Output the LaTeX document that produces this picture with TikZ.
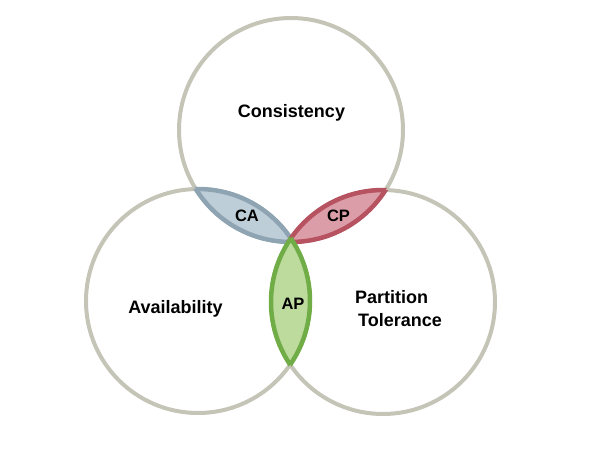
\documentclass[tikz,border=0pt]{standalone}
\usepackage{fontspec}
\setmainfont{Liberation Sans}
\usetikzlibrary{positioning}

\definecolor{setgray}{RGB}{196,196,183}
\definecolor{caline}{RGB}{143,164,178}
\definecolor{cafill}{RGB}{190,206,216}
\definecolor{cpline}{RGB}{183,82,96}
\definecolor{cpfill}{RGB}{219,158,168}
\definecolor{apline}{RGB}{112,173,71}
\definecolor{apfill}{RGB}{188,219,157}
\def\setr{112pt}

\begin{document}
\begin{tikzpicture}[x=1pt,y=-1pt,
        set/.style={circle, draw=setgray, line width=4pt, minimum size=224pt, inner sep=0pt},
        lbl/.style={font=\bfseries\fontsize{18}{22}\selectfont, inner sep=0pt, align=center},
        pair/.style={font=\bfseries\fontsize{16.5}{19}\selectfont, inner sep=0pt}]
        \useasboundingbox (0,0) rectangle (590,448);
        \node[set] (C) at (291,130) {};
        \node[set] (A) at (198,301) {};
        \node[set] (P) at (383,302) {};
        % overlaps of two sets
        \foreach \s/\t/\k in {C/A/ca, C/P/cp, A/P/ap} {
            \begin{scope}
                \clip (\s.center) circle[radius=\setr];
                \fill[\k fill] (\t.center) circle[radius=\setr];
                \draw[\k line, line width=4.5pt] (\t.center) circle[radius=\setr];
            \end{scope}
            \begin{scope}
                \clip (\t.center) circle[radius=\setr];
                \draw[\k line, line width=4.5pt] (\s.center) circle[radius=\setr];
            \end{scope}
        }
        \node[lbl] (cons) at (291.5,113) {Consistency};
        \node[lbl] (avail) at (175.5,309) {Availability};
        \node[lbl, align=left, anchor=west] (part) at (355,309) {Partition\\[1pt]\hspace{3pt}Tolerance};
        \node[pair] (ca) at (247,216) {CA};
        \node[pair] (cp) at (338.5,216) {CP};
        \node[pair] (ap) at (293,304) {AP};
    \end{tikzpicture}
\end{document}
